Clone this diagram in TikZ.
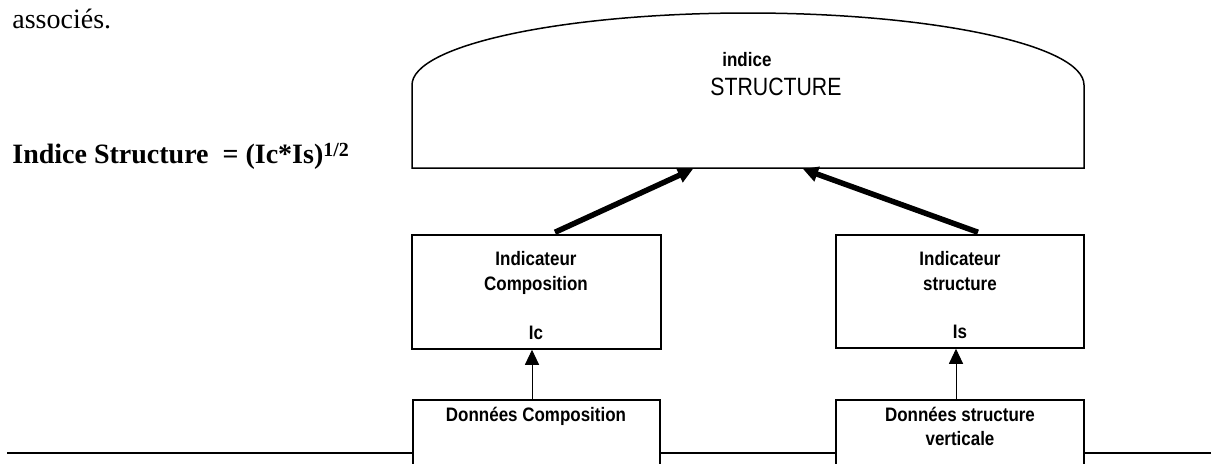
\documentclass[tikz,border=0pt]{standalone}
\usepackage{fontspec}
\setmainfont{Liberation Serif}
\newfontfamily\lblfont[FakeStretch=0.87]{Liberation Sans}
\newfontfamily\capfont[FakeStretch=0.85]{Liberation Sans}
\usetikzlibrary{arrows.meta}

\tikzset{
  boxshape/.style={draw, line width=0.75pt, fill=white, inner sep=0pt},
  lbl/.style={font=\lblfont\bfseries\fontsize{9.75pt}{11pt}\selectfont, inner sep=0pt, anchor=base},
  serif/.style={font=\fontsize{14pt}{16pt}\selectfont, inner sep=0pt, anchor=base west},
  bigarrow/.style={line width=2.75pt, -{Triangle[length=7.5pt,width=7.5pt]}},
  smallarrow/.style={line width=0.5pt, -{Triangle[length=7.5pt,width=7pt]}},
  rule/.style={line width=1pt},
  capline/.style={line width=0.75pt}
}

\begin{document}
\begin{tikzpicture}[x=0.5pt, y=-0.5pt]
  \useasboundingbox (0,0) rectangle (1211,463);
  \clip (0,0) rectangle (1211,463);

  % running text around the figure
  \node[serif] (assoc) at (12,28) {associés.};
  \node[serif, font=\bfseries\fontsize{14pt}{16pt}\selectfont] (formula) at (12,163)
    {Indice Structure\ \ = (Ic*Is)\raisebox{3.5pt}{\fontsize{10pt}{11pt}\selectfont 1/2}};

  % horizontal rule under the page
  \coordinate (ruleL) at (7,453);
  \coordinate (ruleR) at (1211,453);
  \draw[rule] (ruleL) -- (ruleR);

  % top index shape: rectangle with a half-elliptic roof
  \draw[capline] (412,168) -- (412,85)
    arc[start angle=180, end angle=0, x radius=168pt, y radius=36pt]
    -- (1084,168) -- cycle;
  \coordinate (capL) at (693,169);
  \coordinate (capR) at (803,169);
  \node[lbl, anchor=base west] (capA) at (722,66) {indice};
  \node[inner sep=0pt, anchor=base west, font=\capfont\fontsize{12.5pt}{14pt}\selectfont] (capB) at (710,95) {STRUCTURE};

  % indicator boxes
  \node[boxshape, minimum width=124.5pt, minimum height=57pt] (ic) at (536.5,292) {};
  \node[boxshape, minimum width=124pt, minimum height=56.5pt] (is) at (960,291.5) {};
  \node[lbl] (icA) at (536,265) {Indicateur};
  \node[lbl] (icB) at (536,290) {Composition};
  \node[lbl] (icC) at (536,339) {Ic};
  \node[lbl] (isA) at (960,265) {Indicateur};
  \node[lbl] (isB) at (960,290) {structure};
  \node[lbl] (isC) at (960,338) {Is};

  % data boxes, running past the lower edge
  \node[boxshape, minimum width=123.5pt, minimum height=45pt] (dc) at (536.5,445) {};
  \node[boxshape, minimum width=124pt, minimum height=45pt] (ds) at (960,445) {};
  \node[lbl] (dcA) at (536,421) {Données Composition};
  \node[lbl] (dsA) at (960,421) {Données structure};
  \node[lbl] (dsB) at (960,445) {verticale};

  % connectors
  \draw[smallarrow] ([xshift=-2.25pt]dc.north) -- ([xshift=-2.25pt]ic.south);
  \draw[smallarrow] ([xshift=-2pt]ds.north) -- ([xshift=-2pt]is.south);
  \draw[bigarrow] ([xshift=9.25pt,yshift=1pt]ic.north) -- (capL);
  \draw[bigarrow] ([xshift=9pt,yshift=1pt]is.north) -- (capR);
\end{tikzpicture}
\end{document}
